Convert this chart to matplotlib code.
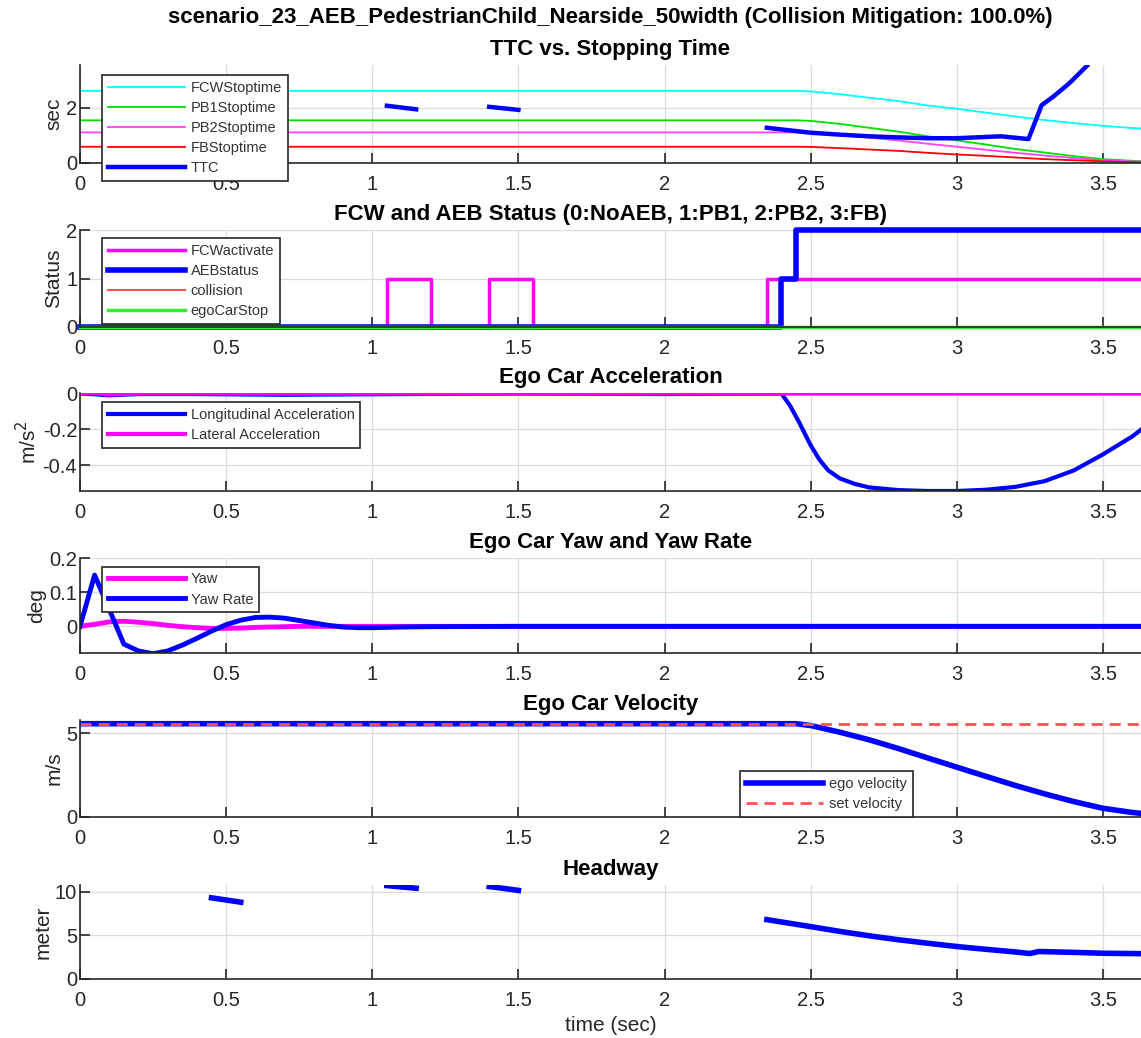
import matplotlib
matplotlib.use('Agg')

import matplotlib.pyplot as plt

plt.rcParams['font.family'] = ['Liberation Sans', 'DejaVu Sans']

# --- TTC vs stopping time ---
t_stop = [0, 2.45, 2.5, 2.6, 2.7, 2.8, 2.9, 3.0, 3.1, 3.2, 3.3, 3.4, 3.5, 3.6, 3.64]
fcw_stop = [2.62, 2.62, 2.60, 2.50, 2.37, 2.25, 2.09, 1.97, 1.83, 1.69, 1.56, 1.45, 1.35, 1.27, 1.25]
pb1_stop = [1.55, 1.55, 1.53, 1.42, 1.28, 1.14, 0.97, 0.82, 0.67, 0.51, 0.38, 0.25, 0.14, 0.08, 0.06]
pb2_stop = [1.11, 1.11, 1.10, 1.02, 0.92, 0.82, 0.70, 0.59, 0.48, 0.37, 0.27, 0.18, 0.10, 0.06, 0.05]
fb_stop = [0.59, 0.59, 0.585, 0.54, 0.49, 0.44, 0.37, 0.31, 0.26, 0.20, 0.14, 0.10, 0.06, 0.03, 0.02]

ttc_segments = [
    ([1.05, 1.15], [2.08, 1.95]),
    ([1.40, 1.50], [2.04, 1.93]),
    ([2.35, 2.45, 2.5, 2.6, 2.7, 2.8, 2.9, 3.0, 3.15, 3.245, 3.29, 3.33, 3.385, 3.445],
     [1.28, 1.16, 1.10, 1.03, 0.97, 0.93, 0.90, 0.90, 0.97, 0.87, 2.10, 2.41, 2.90, 3.53]),
]

# --- FCW / AEB status ---
status_t = [0, 1.05, 1.2, 1.4, 1.55, 2.35, 2.4, 2.45, 3.64]
fcw_activate = [0, 1, 0, 1, 0, 1, 1, 1, 1]
aeb_status = [0, 0, 0, 0, 0, 0, 1, 2, 2]
collision = [0, 0, 0, 0, 0, 0, 0, 0, 0]
ego_stop = [0, 0, 0, 0, 0, 0, 0, 0, 0]

# --- acceleration ---
acc_t = [0, 0.05, 0.1, 0.2, 0.4, 0.7, 1.0, 1.5, 2.0, 2.4, 2.43, 2.46, 2.5, 2.53, 2.56,
         2.6, 2.65, 2.7, 2.8, 2.9, 3.0, 3.1, 3.2, 3.3, 3.4, 3.5, 3.6, 3.64]
acc_long = [0, -0.004, -0.01, -0.003, -0.003, -0.007, -0.004, 0.0, -0.003, 0.0, -0.07,
            -0.16, -0.29, -0.37, -0.43, -0.475, -0.505, -0.525, -0.54, -0.545, -0.545,
            -0.538, -0.522, -0.49, -0.43, -0.34, -0.24, -0.19]
acc_lat = [0, 0.003, -0.006, 0.0, 0.0, 0.0, 0.0, 0.0, 0.0, 0.0, 0.0, 0.0, 0.0, 0.0,
           0.0, 0.0, 0.0, 0.0, 0.0, 0.0, 0.0, 0.0, 0.0, 0.0, 0.0, 0.0, 0.0, 0.0]

# --- yaw / yaw rate ---
yaw_t = [0, 0.05, 0.1, 0.15, 0.2, 0.25, 0.3, 0.35, 0.4, 0.45, 0.5, 0.55, 0.6, 0.65,
         0.7, 0.75, 0.8, 0.85, 0.9, 0.95, 1.0, 1.1, 1.2, 1.5, 2.0, 3.0, 3.64]
yaw = [0, 0.006, 0.013, 0.015, 0.012, 0.008, 0.003, -0.001, -0.004, -0.006, -0.006,
       -0.005, -0.003, -0.002, -0.001, 0.0, 0.0, 0.0, 0.0, 0.0, 0.0, 0.0, 0.0, 0.0,
       0.0, 0.0, 0.0]
yaw_rate = [0, 0.15, 0.05, -0.052, -0.072, -0.08, -0.072, -0.055, -0.035, -0.014,
            0.005, 0.018, 0.026, 0.027, 0.024, 0.017, 0.01, 0.003, -0.002, -0.004,
            -0.004, -0.002, -0.001, 0.0, 0.0, 0.0, 0.0]

# --- velocity ---
vel_t = [0, 2.45, 2.5, 2.6, 2.7, 2.8, 2.9, 3.0, 3.1, 3.2, 3.3, 3.4, 3.5, 3.6, 3.64]
ego_vel = [5.56, 5.56, 5.45, 5.05, 4.6, 4.08, 3.52, 2.97, 2.42, 1.88, 1.38, 0.92, 0.52, 0.27, 0.2]
set_vel = [5.56] * len(vel_t)

# --- headway ---
hw_segments = [
    ([0.45, 0.55], [9.3, 8.8]),
    ([1.05, 1.15], [10.7, 10.4]),
    ([1.40, 1.50], [10.6, 10.15]),
    ([2.35, 2.5, 2.6, 2.7, 2.8, 2.9, 3.0, 3.1, 3.2, 3.25, 3.28, 3.4, 3.5, 3.64],
     [6.8, 6.0, 5.45, 4.95, 4.5, 4.1, 3.72, 3.4, 3.1, 2.92, 3.15, 3.05, 2.95, 2.9]),
]

xticks = [0, 0.5, 1, 1.5, 2, 2.5, 3, 3.5]
xmax = 3.63

W, H = 1141, 1038
fig = plt.figure(figsize=(W / 100, H / 100), dpi=100)

# axes boxes in pixels: (top, bottom)
boxes = [(65, 163), (230, 327), (393, 491), (558, 653), (720, 817), (885, 979)]
left = 80
axes = []
for top, bot in boxes:
    ax = fig.add_axes([left / W, 1 - bot / H, (W - left) / W, (bot - top) / H])
    axes.append(ax)

tick_col = '#262626'


def style(ax, yticks, ylim, ylabel, title):
    ax.set_xlim(0, xmax)
    ax.set_ylim(*ylim)
    ax.set_xticks(xticks)
    ax.set_xticklabels([f'{v:g}' for v in xticks])
    ax.set_yticks(yticks)
    ax.set_yticklabels([f'{v:g}' for v in yticks])
    ax.grid(True, color='#dcdcdc', linewidth=0.9)
    ax.set_axisbelow(True)
    ax.spines['top'].set_visible(False)
    ax.spines['right'].set_visible(False)
    for s in ('left', 'bottom'):
        ax.spines[s].set_color(tick_col)
        ax.spines[s].set_linewidth(1.2)
    ax.tick_params(direction='in', length=7, width=1.2, colors=tick_col,
                   labelsize=14.5, pad=2)
    ax.tick_params(axis='x', pad=9)
    ax.set_ylabel(ylabel, fontsize=15, color=tick_col, labelpad=2)
    ax.set_title(title, fontsize=16, fontweight='bold', pad=7)


def leg(ax, **kw):
    lg = ax.legend(fontsize=10.5, handlelength=5.3, labelspacing=0.42,
                   fancybox=False, edgecolor='#262626', framealpha=1,
                   borderpad=0.4, borderaxespad=0, handletextpad=0.4, **kw)
    lg.get_frame().set_linewidth(1.2)
    lg.set_zorder(10)
    for t in lg.get_texts():
        t.set_color('#333333')
    return lg


# 1: TTC vs stopping time
ax = axes[0]
ax.plot(t_stop, fcw_stop, color='cyan', lw=1.3, label='FCWStoptime')
ax.plot(t_stop, pb1_stop, color='#00e000', lw=1.3, label='PB1Stoptime')
ax.plot(t_stop, pb2_stop, color='#ff40ff', lw=1.3, label='PB2Stoptime')
ax.plot(t_stop, fb_stop, color='red', lw=1.3, label='FBStoptime')
for i, (tx, ty) in enumerate(ttc_segments):
    ax.plot(tx, ty, color='blue', lw=3.2, label='TTC' if i == 0 else None)
style(ax, [0, 2], (0, 3.56), 'sec', 'TTC vs. Stopping Time')
leg(ax, loc='upper left', bbox_to_anchor=(0.0205, 0.9))

# 2: FCW and AEB status
ax = axes[1]
ax.step(status_t, fcw_activate, where='post', color='magenta', lw=2.5, label='FCWactivate')
ax.step(status_t, aeb_status, where='post', color='blue', lw=4, label='AEBstatus')
ax.step(status_t, collision, where='post', color='#ff5050', lw=1.5, label='collision')
ax.step(status_t, ego_stop, where='post', color='#30f030', lw=2.5, label='egoCarStop')
style(ax, [0, 1, 2], (0, 2), 'Status', 'FCW and AEB Status (0:NoAEB, 1:PB1, 2:PB2, 3:FB)')
for ln in ax.lines:
    ln.set_clip_on(False)
leg(ax, loc='upper left', bbox_to_anchor=(0.0205, 0.915))

# 3: acceleration
ax = axes[2]
ax.plot(acc_t, acc_long, color='blue', lw=3, label='Longitudinal Acceleration')
ax.plot(acc_t, acc_lat, color='magenta', lw=3, label='Lateral Acceleration')
style(ax, [-0.4, -0.2, 0], (-0.545, 0.003), 'm/s$^2$', 'Ego Car Acceleration')
leg(ax, loc='upper left', bbox_to_anchor=(0.0205, 0.91))

# 4: yaw and yaw rate
ax = axes[3]
ax.plot(yaw_t, yaw, color='magenta', lw=3.5, label='Yaw')
ax.plot(yaw_t, yaw_rate, color='blue', lw=3.5, label='Yaw Rate')
style(ax, [0, 0.1, 0.2], (-0.078, 0.2), 'deg', 'Ego Car Yaw and Yaw Rate')
leg(ax, loc='upper left', bbox_to_anchor=(0.0205, 0.91))

# 5: velocity
ax = axes[4]
ax.plot(vel_t, ego_vel, color='blue', lw=4, label='ego velocity')
ax.plot(vel_t, set_vel, color='#ff5050', lw=2, ls=(0, (4, 2.5)), label='set velocity')
style(ax, [0, 5], (0, 5.78), 'm/s', 'Ego Car Velocity')
leg(ax, loc='lower right', bbox_to_anchor=(0.785, 0.0))

# 6: headway
ax = axes[5]
for tx, ty in hw_segments:
    ax.plot(tx, ty, color='blue', lw=4)
style(ax, [0, 5, 10], (0, 10.77), 'meter', 'Headway')
ax.set_xlabel('time (sec)', fontsize=15, color=tick_col, labelpad=4)

fig.text((left + W) / 2 / W, 1 - 18 / H,
         'scenario_23_AEB_PedestrianChild_Nearside_50width (Collision Mitigation: 100.0%)',
         ha='center', va='center', fontsize=16, fontweight='bold')

fig.savefig('out.png', dpi=100)
